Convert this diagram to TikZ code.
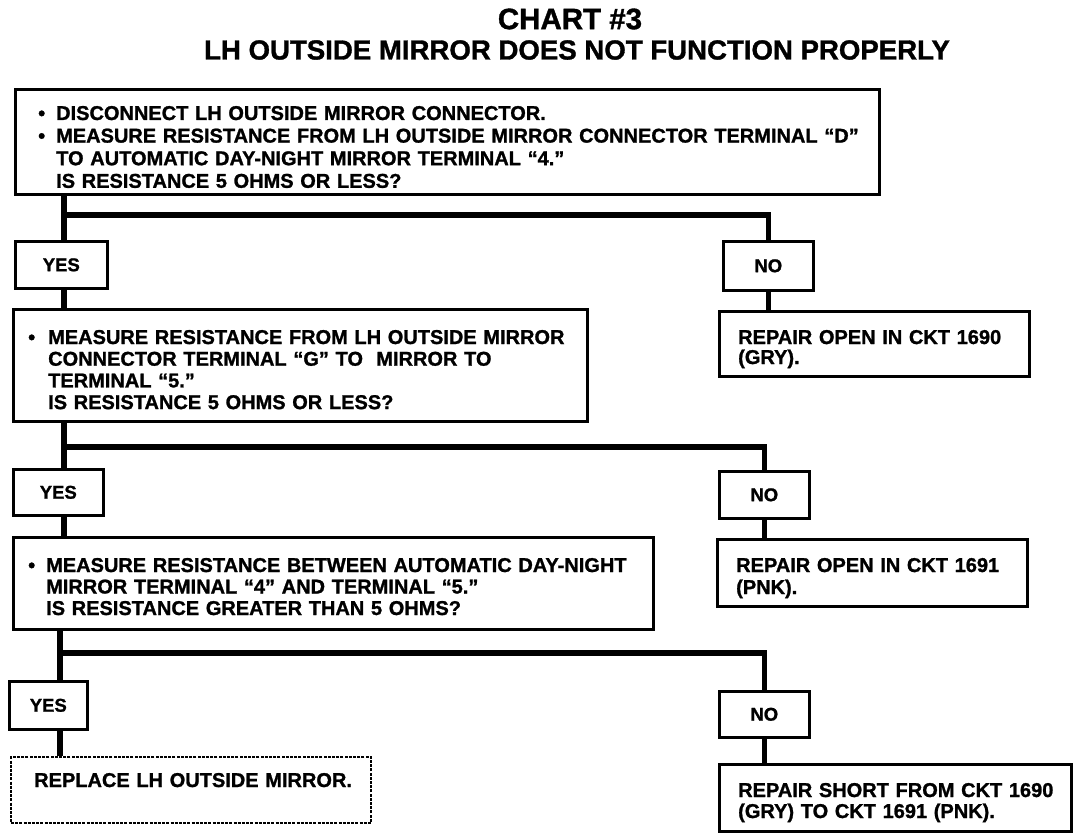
\documentclass[tikz,border=0pt]{standalone}
\usepackage{fontspec}
\setmainfont{Liberation Sans}
\newfontfamily\heavy{Liberation Sans Bold}[FakeBold=1.2]
\usetikzlibrary{calc}
\begin{document}
\begin{tikzpicture}[x=1pt,y=-1pt,
  frame/.style={draw,line width=2.6pt,anchor=north west,inner sep=0pt},
  txt/.style={anchor=base west,align=left,inner sep=0pt,text width=900pt,
    font=\fontsize{20}{22}\selectfont\heavy},
  tag/.style={draw,line width=2.6pt,anchor=north west,align=center,inner sep=0pt,
    font=\fontsize{18.5}{20}\selectfont\heavy},
  wire/.style={line width=5.5pt},
  dframe/.style={draw,line width=1.8pt,dash pattern=on 3pt off 1.2pt,anchor=north west,inner sep=0pt}]
\useasboundingbox (0,0) rectangle (1088,840);
\newcommand{\bul}[1]{\makebox[#1pt][l]{•}}
\newcommand{\ind}[1]{\hspace*{#1pt}}
% titles
\node[font=\fontsize{29.5}{30}\selectfont\heavy] (t1) at (570,19) {CHART \#3};
\node[font=\fontsize{27.6}{28}\selectfont\heavy] (t2) at (577,50) {LH OUTSIDE MIRROR DOES NOT FUNCTION PROPERLY};
% frames
\node[frame,minimum width=864pt,minimum height=105pt] (b1) at (14,88) {};
\node[tag,minimum width=92pt,minimum height=47pt] (y1) at (14,240) {YES};
\node[tag,minimum width=90pt,minimum height=49pt] (n1) at (722,240) {NO};
\node[frame,minimum width=310pt,minimum height=65pt] (r1) at (718,310) {};
\node[frame,minimum width=574pt,minimum height=112pt] (b2) at (12,308) {};
\node[tag,minimum width=90pt,minimum height=46pt] (y2) at (12,468) {YES};
\node[tag,minimum width=90pt,minimum height=47pt] (n2) at (718,470) {NO};
\node[frame,minimum width=310pt,minimum height=67pt] (r2) at (716,538) {};
\node[frame,minimum width=640pt,minimum height=92pt] (b3) at (12,536) {};
\node[tag,minimum width=78pt,minimum height=48pt] (y3) at (8,680) {YES};
\node[tag,minimum width=90pt,minimum height=46pt] (n3) at (718,690) {NO};
\node[frame,minimum width=352pt,minimum height=67pt] (r3) at (718,763) {};
\node[dframe,minimum width=360pt,minimum height=66pt] (rp) at (10,756) {};
% texts
\node[txt,font=\fontsize{20}{22.6}\selectfont\heavy] (b1t) at (38,120)
 {\bul{18}DISCONNECT LH OUTSIDE MIRROR CONNECTOR.\\
  \bul{18}MEASURE RESISTANCE FROM LH OUTSIDE MIRROR CONNECTOR TERMINAL “D”\\
  \ind{18}TO AUTOMATIC DAY-NIGHT MIRROR TERMINAL “4.”\\
  \ind{18}IS RESISTANCE 5 OHMS OR LESS?};
\node[txt,font=\fontsize{20}{21.7}\selectfont\heavy] (b2t) at (28,344)
 {\bul{20}MEASURE RESISTANCE FROM LH OUTSIDE MIRROR\\
  \ind{20}CONNECTOR TERMINAL “G” TO\ \ MIRROR TO\\
  \ind{20}TERMINAL “5.”\\
  \ind{20}IS RESISTANCE 5 OHMS OR LESS?};
\node[txt,font=\fontsize{20}{21.5}\selectfont\heavy] (b3t) at (28,572)
 {\bul{18}MEASURE RESISTANCE BETWEEN AUTOMATIC DAY-NIGHT\\
  \ind{18}MIRROR TERMINAL “4” AND TERMINAL “5.”\\
  \ind{18}IS RESISTANCE GREATER THAN 5 OHMS?};
\node[txt,font=\fontsize{20}{20}\selectfont\heavy] (r1t) at (738,344)
 {REPAIR OPEN IN CKT 1690\\(GRY).};
\node[txt,font=\fontsize{20}{22}\selectfont\heavy] (r2t) at (736,572)
 {REPAIR OPEN IN CKT 1691\\(PNK).};
\node[txt,font=\fontsize{20}{21}\selectfont\heavy] (r3t) at (738,797)
 {REPAIR SHORT FROM CKT 1690\\(GRY) TO CKT 1691 (PNK).};
\node[txt] (rpt) at (34,787) {REPLACE LH OUTSIDE MIRROR.};
% junctions
\coordinate (j1) at (64,215);
\coordinate (j2) at (64,447);
\coordinate (j3) at (60,653);
% connectors
\draw[wire] (b1.south -| j1) -- (y1.north -| j1);
\draw[wire] (j1) -| (n1.north);
\draw[wire] (n1.south) -- (n1.south |- r1.north);
\draw[wire] (y1.south -| j1) -- (b2.north -| j1);
\draw[wire] (b2.south -| j2) -- (y2.north -| j2);
\draw[wire] (j2) -| (n2.north);
\draw[wire] (n2.south) -- (n2.south |- r2.north);
\draw[wire] (y2.south -| j2) -- (b3.north -| j2);
\draw[wire] (b3.south -| j3) -- (y3.north -| j3);
\draw[wire] (j3) -| (n3.north);
\draw[wire] (n3.south) -- (n3.south |- r3.north);
\draw[wire] (y3.south -| j3) -- (rp.north -| j3);
\end{tikzpicture}
\end{document}
